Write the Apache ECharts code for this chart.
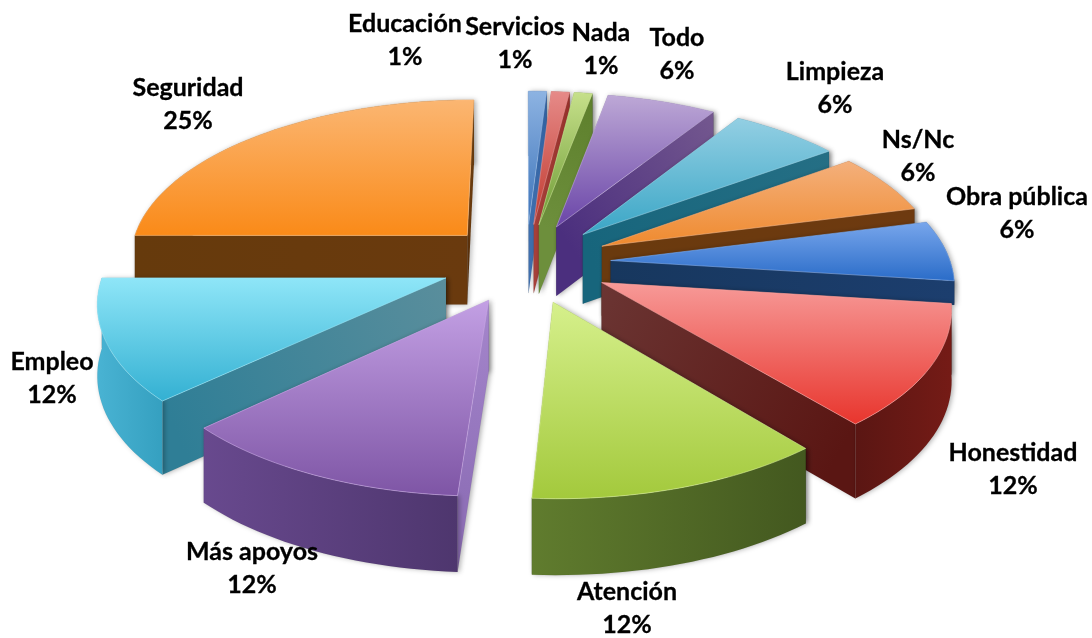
<!DOCTYPE html>
<html>
<head>
<meta charset="utf-8">
<style>
  html, body { margin: 0; padding: 0; background: #fff; }
  #chart { width: 1092px; height: 638px; }
</style>
<script src="https://cdn.jsdelivr.net/npm/echarts@6/dist/echarts.min.js"></script>
</head>
<body>
<div id="chart"></div>
<script>
  // datos
  var categories = ['Educación', 'Servicios', 'Nada', 'Todo', 'Limpieza', 'Ns/Nc', 'Obra pública', 'Honestidad', 'Atención', 'Más apoyos', 'Empleo', 'Seguridad'];
  var percents = [1, 1, 1, 6, 6, 6, 6, 12, 12, 12, 12, 25];

  // colores: cara superior (arriba/abajo), pared recta (centro/borde), pared curva (izq/der)
  var topLight = ['#8db3e2', '#e68a88', '#c6e08a', '#bda8d6', '#93cfe3', '#f4b07c', '#78a6ec', '#f79a98', '#d6f08c', '#c3a0e4', '#8fe6f8', '#fbb672'];
  var topDark = ['#3b72b8', '#c0392e', '#6d9a35', '#6a45a8', '#3aa6c6', '#ef8a2e', '#2a6cc8', '#e8352d', '#a3c93c', '#7e55a5', '#33b0d2', '#fa8a18'];
  var wallNear = ['#3f6fae', '#a8403a', '#6d8f3c', '#4b2f7e', '#17657c', '#6a3a0e', '#17375e', '#6b3533', '#4a6122', '#a586cc', '#5a8e9c', '#6a3a0e'];
  var wallFar = ['#2f5f9e', '#96302a', '#5d7f2c', '#74588f', '#256f85', '#6e3a10', '#1c3e6e', '#5a1613', '#43591e', '#8f70b8', '#2f7e96', '#663a0c'];
  var curveLeft = ['#2f5f9e', '#96302a', '#5d7f2c', '#5f4a87', '#1f6a80', '#6e3a10', '#17375e', '#5a1613', '#607c2e', '#68498e', '#49b3d3', '#6a3a0c'];
  var curveRight = ['#2f5f9e', '#96302a', '#5d7f2c', '#5f4a87', '#1f6a80', '#6e3a10', '#17375e', '#751b16', '#43581f', '#4e366e', '#35a0c0', '#6a3a0c'];

  // posicion de cada rotulo (centro del texto)
  var labelPos = [[405, 40], [515, 43], [601, 49], [677, 54], [835, 88], [918, 156], [1017, 213], [1013, 469], [627, 608], [252, 568], [52, 378], [188, 104]];

  // geometria de la torta 3D
  var centerX = 526, centerY = 263;
  var radius = 340, explode = 85;
  var tilt = 0.47, persp = 0.13, depth = 70;
  // Obra pública queda tapada por Honestidad: su pared no debe asomar por la derecha
  var shortDepth = { 6: 24 };

  var total = percents.reduce(function (a, b) { return a + b; }, 0);
  var startPct = [];
  percents.reduce(function (acc, v, i) { startPct[i] = acc; return acc + v; }, 0);

  function toAngle(pct) {
    return echarts.number.linearMap(pct, [0, total], [0, Math.PI * 2]);
  }

  // suelo -> pantalla. y positivo hacia el observador, h = altura de la pared
  function project(x, y, h) {
    var s = 1 / (1 - persp * y / radius);
    return [
      centerX + x * s,
      centerY + tilt * y * s + h * Math.sqrt(s)
    ];
  }

  function wall(points, fill, z2) {
    return {
      type: 'polygon',
      z2: z2,
      shape: { points: points },
      style: {
        fill: fill,
        stroke: 'rgba(0,0,0,0.08)',
        lineWidth: 0.5,
        shadowBlur: 5,
        shadowOffsetX: 2,
        shadowColor: 'rgba(0,0,0,0.3)'
      }
    };
  }

  function renderSlice(params, api) {
    var i = api.value(0);
    var a0 = toAngle(startPct[i]);
    var a1 = toAngle(startPct[i] + api.value(1));
    var mid = (a0 + a1) / 2;
    var ox = explode * Math.sin(mid);
    var oy = -explode * Math.cos(mid);
    var h = shortDepth[i] || depth;

    var steps = Math.max(3, Math.ceil((a1 - a0) / 0.03));
    var ground = [];
    for (var k = 0; k <= steps; k++) {
      var a = a0 + (a1 - a0) * k / steps;
      ground.push([ox + radius * Math.sin(a), oy - radius * Math.cos(a)]);
    }
    var arcTop = ground.map(function (p) { return project(p[0], p[1], 0); });
    var arcBottom = ground.map(function (p) { return project(p[0], p[1], h); });
    var apexTop = project(ox, oy, 0);
    var apexBottom = project(ox, oy, h);
    var last = arcTop.length - 1;

    // orden de pintura: de atras hacia adelante
    var z = Math.round(oy) * 10 + 1000;

    function straight(end) {
      return new echarts.graphic.LinearGradient(apexTop[0], apexTop[1], end[0], end[1], [
        { offset: 0, color: wallNear[i] },
        { offset: 1, color: wallFar[i] }
      ], true);
    }
    var curve = new echarts.graphic.LinearGradient(0, 0, 1, 0, [
      { offset: 0, color: curveLeft[i] },
      { offset: 1, color: curveRight[i] }
    ]);
    var faces = [
      { y: (ground[0][1] + oy) / 2, pts: [apexTop, arcTop[0], arcBottom[0], apexBottom], fill: straight(arcTop[0]) },
      { y: (ground[steps][1] + oy) / 2, pts: [apexTop, arcTop[last], arcBottom[last], apexBottom], fill: straight(arcTop[last]) },
      { y: ground[steps >> 1][1], pts: arcTop.concat(arcBottom.slice().reverse()), fill: curve }
    ];
    faces.sort(function (p, q) { return p.y - q.y; });

    var children = faces.map(function (f, n) { return wall(f.pts, f.fill, z + n); });
    children.push({
      type: 'polygon',
      z2: z + 5,
      shape: { points: [apexTop].concat(arcTop) },
      style: {
        fill: new echarts.graphic.LinearGradient(0, 0, 0, 1, [
          { offset: 0, color: topLight[i] },
          { offset: 1, color: topDark[i] }
        ]),
        stroke: echarts.color.lift(topLight[i], 0.1),
        lineWidth: 0.6
      }
    });
    children.push({
      type: 'text',
      z2: 5000,
      x: labelPos[i][0],
      y: labelPos[i][1],
      style: {
        text: categories[i] + '\n' + percents[i] + '%',
        fill: '#000',
        font: 'bold 25px Lato, sans-serif',
        lineHeight: 33,
        align: 'center',
        verticalAlign: 'middle',
        stroke: '#000',
        lineWidth: 0.3
      }
    });
    return { type: 'group', children: children };
  }

  var chart = echarts.init(document.getElementById('chart'), null, { renderer: 'canvas' });
  chart.setOption({
    animation: false,
    backgroundColor: '#fff',
    series: [{
      type: 'custom',
      coordinateSystem: 'none',
      renderItem: renderSlice,
      data: percents.map(function (v, i) { return [i, v]; })
    }]
  });
</script>
</body>
</html>
